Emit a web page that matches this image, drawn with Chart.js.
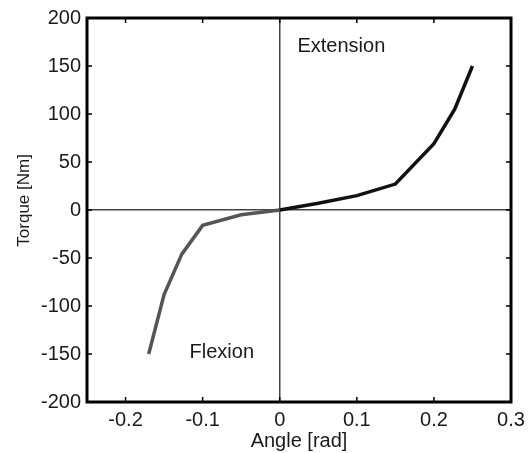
<!DOCTYPE html>
<html>
<head>
<meta charset="utf-8">
<title>Torque vs Angle</title>
<script src="https://cdn.jsdelivr.net/npm/chart.js@4/dist/chart.umd.min.js"></script>
<style>
  body { margin: 0; background: #fff; }
  canvas { display: block; }
</style>
</head>
<body>
<canvas id="torqueChart" width="532" height="453"></canvas>
<script>
// flexion branch (negative angles) and extension branch (positive angles)
const flexAngle = [-0.17, -0.15, -0.127, -0.1, -0.05, 0];
const flexTorque = [-150, -88, -46, -16, -5, 0];
const extAngle = [0, 0.05, 0.1, 0.15, 0.2, 0.227, 0.25];
const extTorque = [0, 7, 15, 27, 69, 105, 150];

const xTicks = [-0.2, -0.1, 0, 0.1, 0.2, 0.3];
const yTicks = [-200, -150, -100, -50, 0, 50, 100, 150, 200];

const fontFamily = '"Liberation Sans", Arial, Helvetica, sans-serif';
const textColor = '#1a1a1a';

function toPoints(xs, ys) {
    return xs.map((x, i) => ({ x: x, y: ys[i] }));
}

// box around the plot with small inward ticks on all four sides, plus the labels inside
const boxPlugin = {
    id: 'boxPlugin',
    afterDraw(chart) {
        const ctx = chart.ctx;
        const a = chart.chartArea;
        const xs = chart.scales.x, ys = chart.scales.y;
        const len = 5;
        ctx.save();
        ctx.strokeStyle = '#000';
        ctx.lineWidth = 1.5;
        ctx.beginPath();
        xTicks.forEach(v => {
            const px = xs.getPixelForValue(v);
            ctx.moveTo(px, a.bottom); ctx.lineTo(px, a.bottom - len);
            ctx.moveTo(px, a.top); ctx.lineTo(px, a.top + len);
        });
        yTicks.forEach(v => {
            const py = ys.getPixelForValue(v);
            ctx.moveTo(a.left, py); ctx.lineTo(a.left + len, py);
            ctx.moveTo(a.right, py); ctx.lineTo(a.right - len, py);
        });
        ctx.stroke();

        ctx.lineWidth = 3;
        ctx.strokeRect(a.left, a.top, a.right - a.left, a.bottom - a.top);

        ctx.fillStyle = textColor;
        ctx.font = '20px ' + fontFamily;
        ctx.textAlign = 'left';
        ctx.textBaseline = 'middle';
        ctx.fillText('Extension', xs.getPixelForValue(0.023), ys.getPixelForValue(170));
        ctx.fillText('Flexion', xs.getPixelForValue(-0.117), ys.getPixelForValue(-148));

        // y axis title
        ctx.translate(24, ys.getPixelForValue(10));
        ctx.rotate(-Math.PI / 2);
        ctx.textAlign = 'center';
        ctx.font = '17px ' + fontFamily;
        ctx.fillText('Torque [Nm]', 0, 0);
        ctx.restore();
    }
};

const zeroGrid = {
    display: true,
    drawTicks: false,
    lineWidth: 1.5,
    color: c => (c.tick && c.tick.value === 0) ? '#444' : 'rgba(0,0,0,0)'
};

new Chart(document.getElementById('torqueChart').getContext('2d'), {
    type: 'line',
    data: {
        datasets: [
            {
                label: 'Flexion',
                data: toPoints(flexAngle, flexTorque),
                borderColor: '#555',
                borderWidth: 3.5,
                pointRadius: 0,
                tension: 0,
                fill: false
            },
            {
                label: 'Extension',
                data: toPoints(extAngle, extTorque),
                borderColor: '#111',
                borderWidth: 3.5,
                pointRadius: 0,
                tension: 0,
                fill: false
            }
        ]
    },
    options: {
        responsive: false,
        animation: false,
        layout: { autoPadding: false, padding: { top: 18, right: 21, left: 0, bottom: 0 } },
        plugins: {
            legend: { display: false },
            tooltip: { enabled: false }
        },
        scales: {
            x: {
                type: 'linear',
                min: -0.25,
                max: 0.3,
                afterBuildTicks: s => { s.ticks = xTicks.map(v => ({ value: v })); },
                afterFit: s => { s.height = 51; },
                grid: zeroGrid,
                border: { display: false },
                ticks: {
                    padding: 6,
                    color: textColor,
                    font: { family: fontFamily, size: 20 },
                    maxRotation: 0,
                    callback: v => String(v)
                },
                title: {
                    display: true,
                    text: 'Angle [rad]',
                    color: textColor,
                    font: { family: fontFamily, size: 20 },
                    padding: { top: 0, bottom: 0 }
                }
            },
            y: {
                type: 'linear',
                min: -200,
                max: 200,
                afterBuildTicks: s => { s.ticks = yTicks.map(v => ({ value: v })); },
                afterFit: s => { s.width = 87; },
                grid: zeroGrid,
                border: { display: false },
                ticks: {
                    padding: 6,
                    color: textColor,
                    font: { family: fontFamily, size: 20 },
                    callback: v => String(v)
                }
            }
        }
    },
    plugins: [boxPlugin]
});
</script>
</body>
</html>
